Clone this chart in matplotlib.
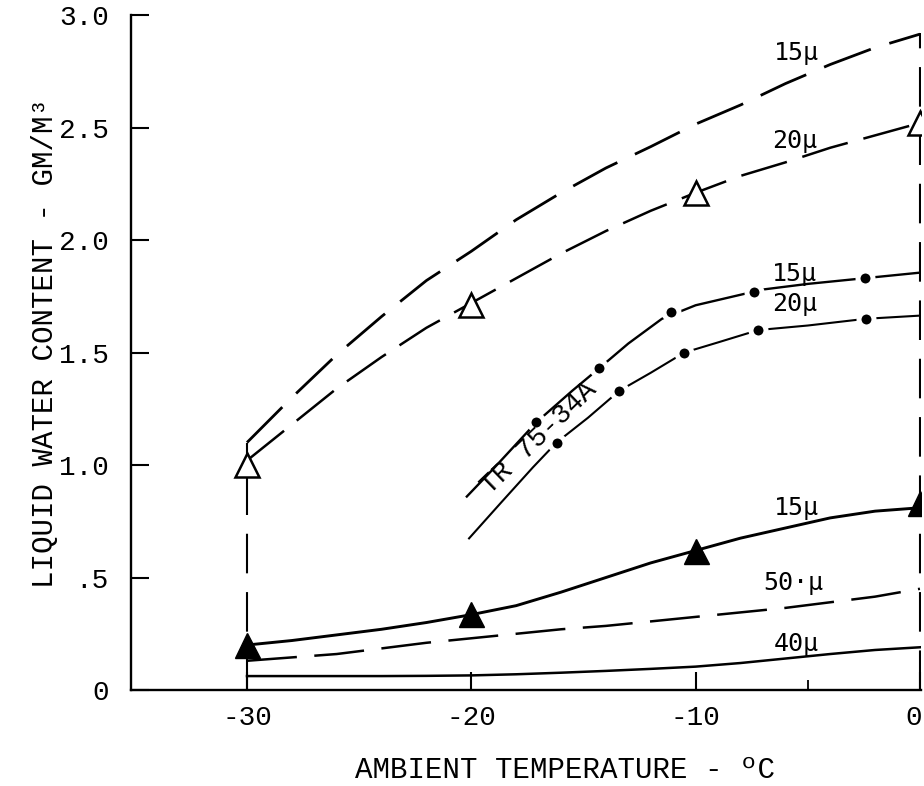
import numpy as np
import matplotlib
matplotlib.use("Agg")
import matplotlib.pyplot as plt
from matplotlib.transforms import ScaledTranslation

# values
temp = [-30, -28, -26, -24, -22, -20, -18, -16, -14, -12, -10, -8, -6, -4, -2, 0]
lwc_15_top = [1.10, 1.30, 1.49, 1.66, 1.82, 1.95, 2.09, 2.21, 2.32, 2.415, 2.515, 2.60, 2.695, 2.78, 2.855, 2.915]
lwc_20_top = [1.02, 1.18, 1.34, 1.48, 1.61, 1.72, 1.83, 1.94, 2.04, 2.13, 2.21, 2.285, 2.345, 2.41, 2.465, 2.52]
lwc_15_low = [0.20, 0.22, 0.245, 0.27, 0.30, 0.335, 0.375, 0.435, 0.50, 0.565, 0.62, 0.675, 0.72, 0.765, 0.795, 0.81]
lwc_50 = [0.13, 0.145, 0.16, 0.185, 0.21, 0.23, 0.25, 0.27, 0.285, 0.305, 0.325, 0.345, 0.365, 0.39, 0.415, 0.45]
lwc_40 = [0.062, 0.062, 0.062, 0.062, 0.063, 0.065, 0.07, 0.077, 0.085, 0.094, 0.104, 0.12, 0.14, 0.16, 0.178, 0.19]

tri_temp = [-30, -20, -10, 0]
tri_open = [1.0, 1.71, 2.21, 2.52]
tri_filled = [0.20, 0.34, 0.62, 0.83]

# TR 75-34A curves
tr15_t = [-20.2, -19.0, -17.1, -15.5, -14.3, -13.0, -11.5, -10.0, -8.5, -7.0, -5.0, -3.0, -1.5, 0]
tr15_w = [0.86, 0.985, 1.19, 1.33, 1.43, 1.54, 1.65, 1.71, 1.745, 1.78, 1.805, 1.825, 1.84, 1.855]
tr15_dot_t = [-17.1, -14.3, -11.1, -7.4, -2.45]
tr15_dot_w = [1.19, 1.43, 1.68, 1.77, 1.83]

tr20_t = [-20.1, -18.7, -17.25, -16.2, -14.8, -13.4, -12.0, -10.5, -9.0, -7.2, -5.0, -2.4, 0]
tr20_w = [0.674, 0.83, 0.99, 1.10, 1.21, 1.33, 1.41, 1.50, 1.545, 1.60, 1.62, 1.65, 1.664]
tr20_dot_t = [-16.2, -13.4, -10.5, -7.2, -2.4]
tr20_dot_w = [1.10, 1.33, 1.50, 1.60, 1.65]

guide_t = [-30, 0]
guide_top = [1.10, 2.92]

labels = ["15\u03bc", "20\u03bc", "15\u03bc", "20\u03bc", "15\u03bc", "50\u00b7\u03bc", "40\u03bc"]
label_t = [-5.5, -5.6, -5.6, -5.6, -5.5, -5.65, -5.5]
label_w = [2.83, 2.44, 1.85, 1.715, 0.81, 0.475, 0.205]

mono = "Liberation Mono"

fig = plt.figure(figsize=(9.24, 7.86), dpi=100)
ax = fig.add_axes([0.1418, 0.1221, 0.855, 0.8588])

# dashed guide verticals
for t, top in zip(guide_t, guide_top):
    ax.plot([t, t], [0, top], color="black", lw=1.5, dashes=(19, 9))

ax.plot(temp, lwc_15_top, color="black", lw=2, dashes=(18, 7))
ax.plot(temp, lwc_20_top, color="black", lw=1.8, dashes=(19, 6.5))
ax.plot(tri_temp, tri_open, ls="none", marker="^", ms=17, mfc="white",
        mec="black", mew=1.8, zorder=4)

ax.plot(temp, lwc_15_low, color="black", lw=2.1)
ax.plot(tri_temp, tri_filled, ls="none", marker="^", ms=18, color="black", zorder=4)

ax.plot(temp, lwc_50, color="black", lw=1.8, dashes=(20, 7))
ax.plot(temp, lwc_40, color="black", lw=1.8)

# TR 75-34A: line broken by dots
ax.plot(tr15_t, tr15_w, color="black", lw=1.7)
ax.plot(tr15_dot_t, tr15_dot_w, ls="none", marker="o", ms=10.8, mfc="black",
        mec="white", mew=3.6, zorder=3)
ax.plot(tr20_t, tr20_w, color="black", lw=1.5)
ax.plot(tr20_dot_t, tr20_dot_w, ls="none", marker="o", ms=10.8, mfc="black",
        mec="white", mew=3.6, zorder=3)

ax.text(-17.0, 1.12, "TR 75-34A", family=mono, fontsize=20, rotation=44,
        ha="center", va="center", rotation_mode="anchor", zorder=5)

for s, t, w in zip(labels, label_t, label_w):
    ax.text(t, w, s, family="DejaVu Sans Mono", fontsize=18, ha="center", va="center")

ax.set_xlim(-35.17, 0.05)
ax.set_ylim(0, 3.0)
ax.spines["top"].set_visible(False)
ax.spines["right"].set_visible(False)
ax.spines["left"].set_linewidth(1.7)
ax.spines["bottom"].set_linewidth(1.7)

ax.set_xticks([-30, -20, -10, 0])
ax.set_xticklabels(["-30", "-20", "-10", "0"])
ax.set_xticks([-5], minor=True)
ax.set_yticks([0, 0.5, 1.0, 1.5, 2.0, 2.5, 3.0])
ax.set_yticklabels(["0", ".5", "1.0", "1.5", "2.0", "2.5", "3.0"])
ax.tick_params(which="major", direction="in", length=13, width=1.5, labelsize=20, pad=11)
ax.tick_params(which="minor", direction="in", length=7, width=1.3)
ax.tick_params(axis="y", pad=16)
for lab in ax.get_xticklabels() + ax.get_yticklabels():
    lab.set_family(mono)
# the last x label sits on the right edge; nudge it inside
last = ax.get_xticklabels()[-1]
last.set_transform(last.get_transform() + ScaledTranslation(-6 / 100, 0, fig.dpi_scale_trans))

fig.text(565 / 924, 1 - 770 / 786, "AMBIENT TEMPERATURE - \u00baC", family=mono,
         fontsize=21, ha="center", va="center")
fig.text(45 / 924, 1 - 343 / 786, "LIQUID WATER CONTENT - GM/M\u00b3", family=mono,
         fontsize=21, ha="center", va="center", rotation=90)

fig.savefig("out.png", dpi=100, facecolor="white")
